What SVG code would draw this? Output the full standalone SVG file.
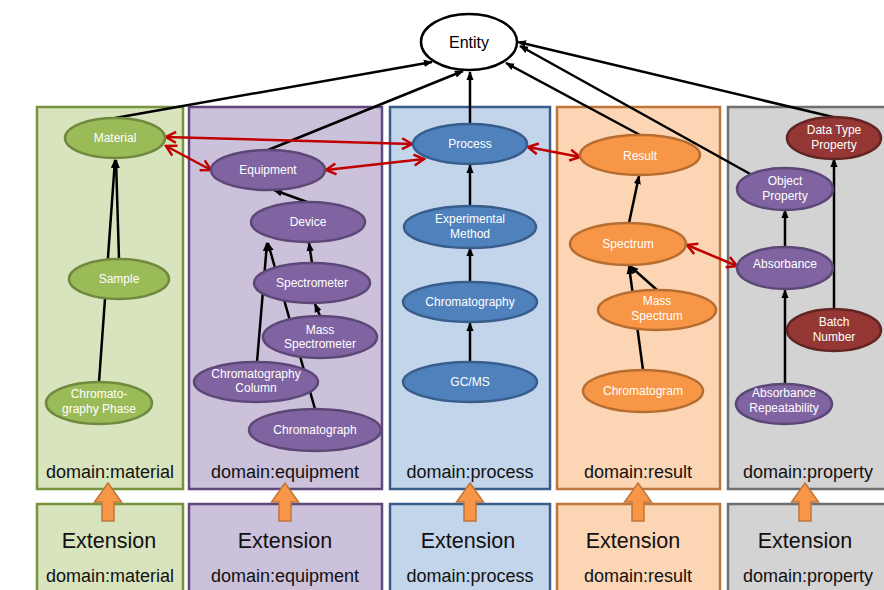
<svg xmlns="http://www.w3.org/2000/svg" width="884" height="590" viewBox="0 0 884 590">
<style>
.pl{stroke-width:2.5}
.gp{fill:#d7e4bd;stroke:#77933c}
.pp{fill:#ccc1da;stroke:#5f497a}
.bp{fill:#c3d5ea;stroke:#385d8a}
.op{fill:#fcd5b5;stroke:#c0763a}
.ap{fill:#d3d3d3;stroke:#6f6f6f}
.dl{font-family:"Liberation Sans",Arial,sans-serif;font-size:18px;fill:#111;text-anchor:middle}
.ext{font-family:"Liberation Sans",Arial,sans-serif;font-size:21.5px;fill:#111;text-anchor:middle}
.n ellipse{stroke-width:2.5}
.n text{font-family:"Liberation Sans",Arial,sans-serif;font-size:12px;fill:#fff;text-anchor:middle}
.g ellipse{fill:#9bbb59;stroke:#71893f}
.p ellipse{fill:#8064a2;stroke:#5c4776}
.b ellipse{fill:#4f81bd;stroke:#385d8a}
.o ellipse{fill:#f79646;stroke:#b66d31}
.r ellipse{fill:#953735;stroke:#632523}
.e ellipse{fill:#fff;stroke:#000}
.e text{fill:#000;font-size:16px}
.isa line{stroke:#000;stroke-width:2.5;marker-end:url(#ah)}
.rel line{stroke:#c00000;stroke-width:2.5;marker-start:url(#rh);marker-end:url(#rh)}
.up{fill:#f79646;stroke:#c0763a;stroke-width:1.5}
</style>
<defs>
<marker id="ah" viewBox="0 0 10 10" refX="9" refY="5" markerWidth="9" markerHeight="9" markerUnits="userSpaceOnUse" orient="auto"><path d="M0,1 L10,5 L0,9 z" fill="#000"/></marker>
<marker id="rh" viewBox="0 0 14 14" refX="12" refY="7" markerWidth="14" markerHeight="14" markerUnits="userSpaceOnUse" orient="auto-start-reverse"><path d="M2,1.5 L12,7 L2,12.5" fill="none" stroke="#c00000" stroke-width="2.5"/></marker>
<path id="uparrow" d="M0,483 L13.5,502 L6,502 L6,521 L-6,521 L-6,502 L-13.5,502 Z"/>
</defs>

<g id="panels">
<rect id="panel-material" class="pl gp" x="37" y="107" width="146" height="382"/>
<rect id="panel-equipment" class="pl pp" x="189" y="107" width="193" height="382"/>
<rect id="panel-process" class="pl bp" x="390" y="107" width="160" height="382"/>
<rect id="panel-result" class="pl op" x="557" y="107" width="163" height="382"/>
<rect id="panel-property" class="pl ap" x="728" y="107" width="162" height="382"/>
<text class="dl" x="110" y="478">domain:material</text>
<text class="dl" x="285" y="478">domain:equipment</text>
<text class="dl" x="470" y="478">domain:process</text>
<text class="dl" x="638" y="478">domain:result</text>
<text class="dl" x="808" y="478">domain:property</text>
</g>

<g id="extensions">
<rect id="ext-material" class="pl gp" x="37" y="504" width="146" height="100"/>
<rect id="ext-equipment" class="pl pp" x="189" y="504" width="193" height="100"/>
<rect id="ext-process" class="pl bp" x="390" y="504" width="160" height="100"/>
<rect id="ext-result" class="pl op" x="557" y="504" width="163" height="100"/>
<rect id="ext-property" class="pl ap" x="728" y="504" width="162" height="100"/>
<text class="ext" x="109" y="548">Extension</text>
<text class="ext" x="285" y="548">Extension</text>
<text class="ext" x="468" y="548">Extension</text>
<text class="ext" x="633" y="548">Extension</text>
<text class="ext" x="805" y="548">Extension</text>
<text class="dl" x="110" y="582">domain:material</text>
<text class="dl" x="285" y="582">domain:equipment</text>
<text class="dl" x="470" y="582">domain:process</text>
<text class="dl" x="638" y="582">domain:result</text>
<text class="dl" x="808" y="582">domain:property</text>
</g>

<g id="connectors">
<g class="isa">
<line x1="115" y1="118" x2="432" y2="62"/>
<line x1="268" y1="150" x2="463" y2="71"/>
<line x1="470" y1="124" x2="470" y2="72"/>
<line x1="640" y1="135" x2="506" y2="63"/>
<line x1="752" y1="175" x2="520" y2="46"/>
<line x1="833" y1="117" x2="518" y2="42"/>
<line x1="119" y1="259" x2="116" y2="160"/>
<line x1="99" y1="382" x2="115" y2="160"/>
<line x1="307" y1="202" x2="274" y2="190"/>
<line x1="312" y1="263" x2="309" y2="243"/>
<line x1="320" y1="316" x2="315" y2="304"/>
<line x1="257" y1="362" x2="267" y2="243"/>
<line x1="315" y1="409" x2="268" y2="243"/>
<line x1="470" y1="206" x2="470" y2="165"/>
<line x1="470" y1="282" x2="470" y2="248"/>
<line x1="470" y1="362" x2="470" y2="323"/>
<line x1="629" y1="223" x2="639" y2="176"/>
<line x1="657" y1="290" x2="630" y2="266"/>
<line x1="643" y1="370" x2="629" y2="266"/>
<line x1="785" y1="248" x2="785" y2="210"/>
<line x1="785" y1="384" x2="785" y2="290"/>
<line x1="834" y1="309" x2="834" y2="159"/>
</g>
<g class="rel">
<line x1="166" y1="137" x2="412" y2="144"/>
<line x1="166" y1="146" x2="211" y2="170"/>
<line x1="326" y1="170" x2="424" y2="159"/>
<line x1="528" y1="147" x2="580" y2="157"/>
<line x1="687" y1="245" x2="737" y2="266"/>
</g>
</g>

<g id="up-arrows">
<use href="#uparrow" class="up" x="108"/>
<use href="#uparrow" class="up" x="285"/>
<use href="#uparrow" class="up" x="470"/>
<use href="#uparrow" class="up" x="638"/>
<use href="#uparrow" class="up" x="805"/>
</g>

<g id="entity" class="n e"><ellipse cx="469" cy="42" rx="48" ry="28"/><text x="469" y="48">Entity</text></g>

<g id="material" class="n g"><ellipse cx="115" cy="138" rx="50" ry="20"/><text x="115" y="142">Material</text></g>
<g id="sample" class="n g"><ellipse cx="119" cy="279" rx="50" ry="20"/><text x="119" y="283">Sample</text></g>
<g id="chromatography-phase" class="n g"><ellipse cx="99" cy="403" rx="53" ry="21"/><text x="99" y="398">Chromato-</text><text x="99" y="413">graphy Phase</text></g>

<g id="equipment" class="n p"><ellipse cx="268" cy="170" rx="57" ry="20"/><text x="268" y="174">Equipment</text></g>
<g id="device" class="n p"><ellipse cx="308" cy="222" rx="57" ry="20"/><text x="308" y="226">Device</text></g>
<g id="spectrometer" class="n p"><ellipse cx="312" cy="283" rx="58" ry="20"/><text x="312" y="287">Spectrometer</text></g>
<g id="mass-spectrometer" class="n p"><ellipse cx="320" cy="337" rx="57" ry="21"/><text x="320" y="334">Mass</text><text x="320" y="348">Spectrometer</text></g>
<g id="chromatography-column" class="n p"><ellipse cx="256" cy="382" rx="62" ry="20"/><text x="256" y="378">Chromatography</text><text x="256" y="392">Column</text></g>
<g id="chromatograph" class="n p"><ellipse cx="315" cy="430" rx="66" ry="21"/><text x="315" y="434">Chromatograph</text></g>

<g id="process" class="n b"><ellipse cx="470" cy="144" rx="57" ry="20"/><text x="470" y="148">Process</text></g>
<g id="experimental-method" class="n b"><ellipse cx="470" cy="227" rx="66" ry="21"/><text x="470" y="223">Experimental</text><text x="470" y="238">Method</text></g>
<g id="chromatography" class="n b"><ellipse cx="470" cy="302" rx="67" ry="20"/><text x="470" y="306">Chromatography</text></g>
<g id="gcms" class="n b"><ellipse cx="470" cy="382" rx="67" ry="20"/><text x="470" y="386">GC/MS</text></g>

<g id="result" class="n o"><ellipse cx="640" cy="155" rx="60" ry="20"/><text x="640" y="160">Result</text></g>
<g id="spectrum" class="n o"><ellipse cx="628" cy="244" rx="58" ry="21"/><text x="628" y="248">Spectrum</text></g>
<g id="mass-spectrum" class="n o"><ellipse cx="657" cy="310" rx="59" ry="20"/><text x="657" y="305">Mass</text><text x="657" y="320">Spectrum</text></g>
<g id="chromatogram" class="n o"><ellipse cx="643" cy="391" rx="60" ry="21"/><text x="643" y="395">Chromatogram</text></g>

<g id="data-type-property" class="n r"><ellipse cx="834" cy="138" rx="47" ry="21"/><text x="834" y="134">Data Type</text><text x="834" y="149">Property</text></g>
<g id="object-property" class="n p"><ellipse cx="785" cy="189" rx="48" ry="21"/><text x="785" y="185">Object</text><text x="785" y="200">Property</text></g>
<g id="absorbance" class="n p"><ellipse cx="785" cy="268" rx="48" ry="21"/><text x="785" y="268">Absorbance</text></g>
<g id="batch-number" class="n r"><ellipse cx="834" cy="330" rx="47" ry="21"/><text x="834" y="326">Batch</text><text x="834" y="341">Number</text></g>
<g id="absorbance-repeatability" class="n p"><ellipse cx="784" cy="404" rx="48" ry="20"/><text x="784" y="397">Absorbance</text><text x="784" y="412">Repeatability</text></g>
</svg>
